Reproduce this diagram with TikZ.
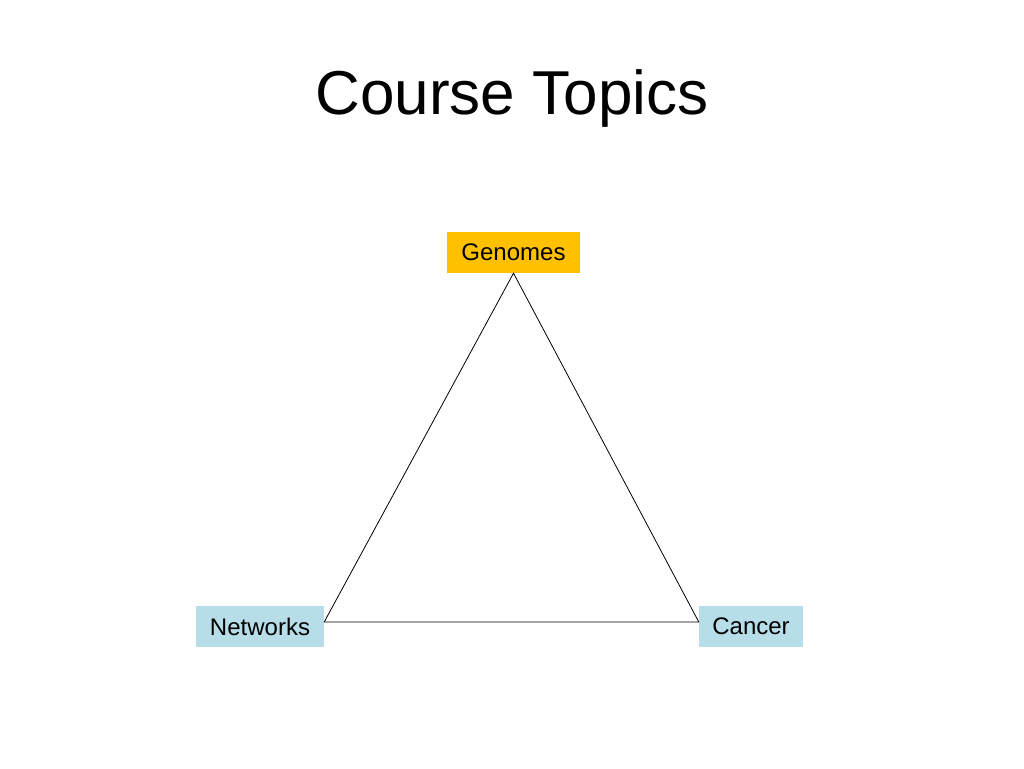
\documentclass[tikz,border=0pt]{standalone}
\usepackage{fontspec}
\setmainfont{Liberation Sans}
\definecolor{gold}{HTML}{FFC000}
\definecolor{paleblue}{HTML}{B7DEE8}
\tikzset{every node/.style={align=center}}
\tikzstyle{topic} = [inner sep=0pt, minimum height=41pt, font=\fontsize{24}{28}\selectfont]

\begin{document}
\begin{tikzpicture}[x=1pt,y=-1pt]
		% Frame
		\useasboundingbox (0,0) rectangle (1024,768);
		% Title
		\node (title) at (512,98) {\fontsize{62}{70}\selectfont Course Topics};
		
		% Nodes
		\node[topic, fill=gold, minimum width=133pt] (genomes) at (513.5,252.5) {Genomes};
		\node[topic, fill=paleblue, minimum width=128pt] (networks) at (260,626.5) {Networks};
		\node[topic, fill=paleblue, minimum width=104pt] (cancer) at (751,626.5) {Cancer};
		
		% Triangle
		\draw[line width=0.8] (genomes.south) -- (networks.east |- 0,622) -- (cancer.west |- 0,622) -- cycle;
	\end{tikzpicture}
\end{document}
